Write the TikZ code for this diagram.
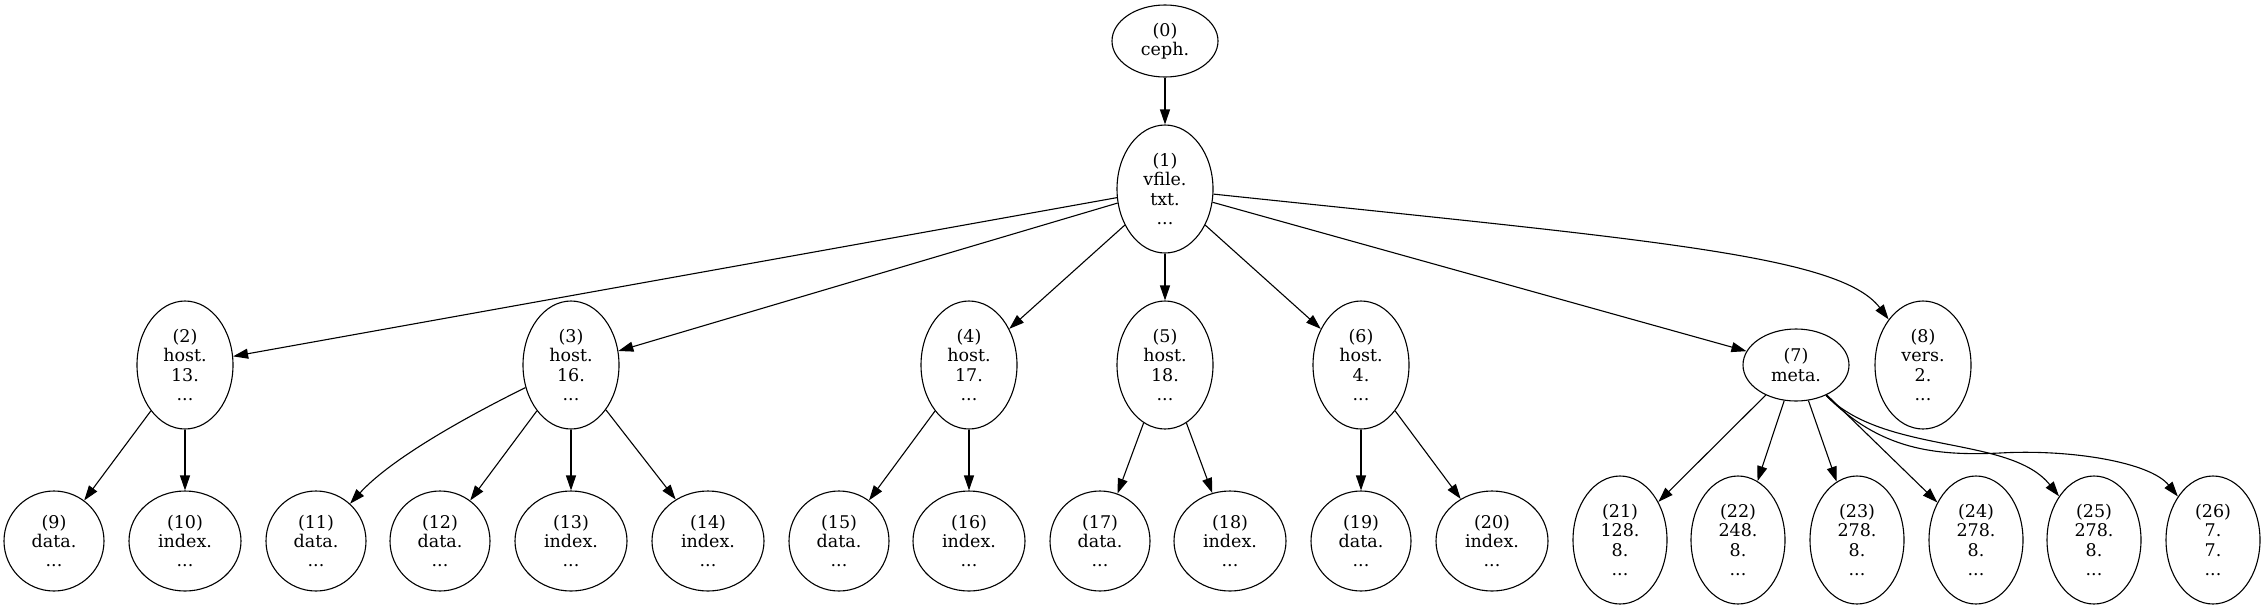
\documentclass[tikz,border=0pt]{standalone}
\usepackage{fontspec}
\setmainfont{DejaVu Serif}
\usetikzlibrary{shapes.geometric,arrows.meta}

\tikzset{
	obj/.style={draw, ellipse, inner sep=0pt, line width=1.1pt, align=center,
		font=\fontsize{17.5}{19.3}\selectfont},
	tall/.style={obj, minimum width=96pt, minimum height=128pt},
	leaf/.style={obj, minimum width=94pt, minimum height=128pt},
	flat/.style={obj, minimum width=106pt, minimum height=72pt},
	dat/.style={obj, minimum width=100pt, minimum height=100pt},
	idx/.style={obj, minimum width=112pt, minimum height=100pt},
}

\begin{document}
\begin{tikzpicture}[x=1pt,y=-1pt,>={Triangle[length=15pt,width=10pt]},line width=1.1pt]
	\useasboundingbox (0,0) rectangle (2265,611);

	% Root and the file node
	\node[flat] (n0) at (1165,41) {(0)\\ceph.};
	\node[tall] (n1) at (1165,189) {(1)\\vfile.\\txt.\\...};

	% Second row: hosts, meta and vers
	\node[tall] (n2) at (185,365) {(2)\\host.\\13.\\...};
	\node[tall] (n3) at (571,365) {(3)\\host.\\16.\\...};
	\node[tall] (n4) at (969,365) {(4)\\host.\\17.\\...};
	\node[tall] (n5) at (1165,365) {(5)\\host.\\18.\\...};
	\node[tall] (n6) at (1361,365) {(6)\\host.\\4.\\...};
	\node[flat] (n7) at (1796,365) {(7)\\meta.};
	\node[tall] (n8) at (1923,365) {(8)\\vers.\\2.\\...};

	% Third row: data and index of each host
	\node[dat] (n9) at (54,541) {(9)\\data.\\...};
	\node[idx] (n10) at (185,541) {(10)\\index.\\...};
	\node[dat] (n11) at (316,541) {(11)\\data.\\...};
	\node[dat] (n12) at (440,541) {(12)\\data.\\...};
	\node[idx] (n13) at (571,541) {(13)\\index.\\...};
	\node[idx] (n14) at (708,541) {(14)\\index.\\...};
	\node[dat] (n15) at (839,541) {(15)\\data.\\...};
	\node[idx] (n16) at (969,541) {(16)\\index.\\...};
	\node[dat] (n17) at (1100,541) {(17)\\data.\\...};
	\node[idx] (n18) at (1230,541) {(18)\\index.\\...};
	\node[dat] (n19) at (1361,541) {(19)\\data.\\...};
	\node[idx] (n20) at (1492,541) {(20)\\index.\\...};

	% Third row: entries of meta
	\node[leaf] (n21) at (1620,540) {(21)\\128.\\8.\\...};
	\node[leaf] (n22) at (1738,540) {(22)\\248.\\8.\\...};
	\node[leaf] (n23) at (1857,540) {(23)\\278.\\8.\\...};
	\node[leaf] (n24) at (1976,540) {(24)\\278.\\8.\\...};
	\node[leaf] (n25) at (2094,540) {(25)\\278.\\8.\\...};
	\node[leaf] (n26) at (2213,540) {(26)\\7.\\7.\\...};

	% Edges from the top
	\draw[->] (n0) -- (n1);
	\draw[->] (n1) -- (n2);
	\draw[->] (n1) -- (n3);
	\draw[->] (n1) -- (n4);
	\draw[->] (n1) -- (n5);
	\draw[->] (n1) -- (n6);
	\draw[->] (n1) -- (n7);
	\draw[->] (n1) .. controls (1650,240) and (1840,255) .. (n8);

	% Edges to the data and index nodes
	\draw[->] (n2) -- (n9);
	\draw[->] (n2) -- (n10);
	\draw[->] (n3) .. controls (460,420) and (390,460) .. (n11);
	\draw[->] (n3) -- (n12);
	\draw[->] (n3) -- (n13);
	\draw[->] (n3) -- (n14);
	\draw[->] (n4) -- (n15);
	\draw[->] (n4) -- (n16);
	\draw[->] (n5) -- (n17);
	\draw[->] (n5) -- (n18);
	\draw[->] (n6) -- (n19);
	\draw[->] (n6) -- (n20);

	% Edges below meta
	\draw[->] (n7) -- (n21);
	\draw[->] (n7) -- (n22);
	\draw[->] (n7) -- (n23);
	\draw[->] (n7) -- (n24);
	\draw[->] (n7) .. controls (1885,455) and (2010,435) .. (n25);
	\draw[->] (n7) .. controls (1880,450) and (1935,456) .. (2000,453)
		.. controls (2070,449) and (2150,462) .. (n26);

\end{tikzpicture}
\end{document}
